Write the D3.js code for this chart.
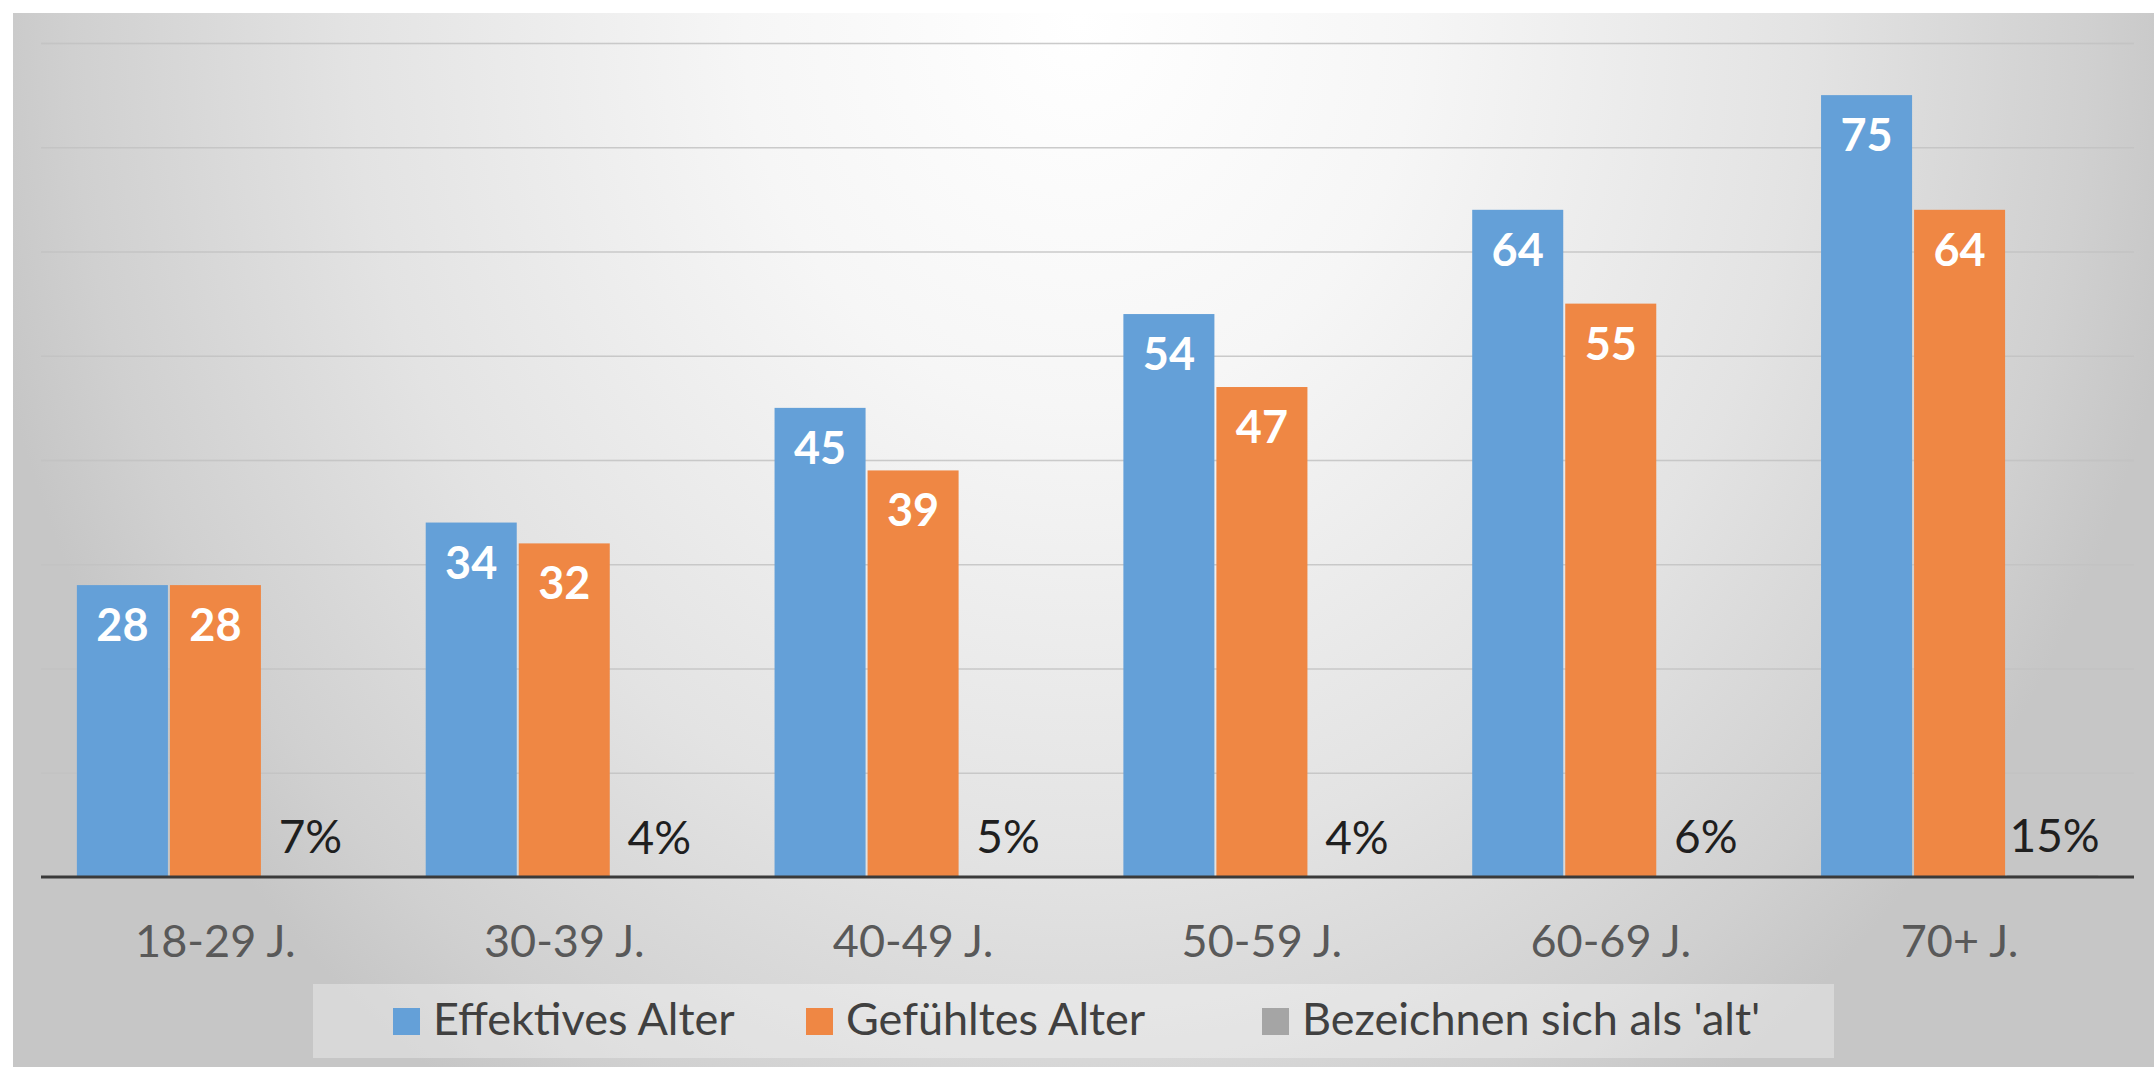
<!DOCTYPE html>
<html lang="de">
<head>
<meta charset="utf-8">
<script src="https://cdn.jsdelivr.net/npm/d3@7"></script>
<style>
  html, body { margin: 0; padding: 0; background: #ffffff; }
  svg { display: block; }
  text { font-family: Lato, "Open Sans", "Noto Sans", sans-serif; }
</style>
</head>
<body>
<svg id="chart" width="2154" height="1067"></svg>
<script>
// Altersgruppen und Werte
const categories = ["18-29 J.", "30-39 J.", "40-49 J.", "50-59 J.", "60-69 J.", "70+ J."];
const effektivesAlter = [28, 34, 45, 54, 64, 75];
const gefuehltesAlter = [28, 32, 39, 47, 55, 64];
const bezeichnenAlt = [0.07, 0.04, 0.05, 0.04, 0.06, 0.15];
const seriesNames = ["Effektives Alter", "Gefühltes Alter", "Bezeichnen sich als 'alt'"];
const seriesColors = ["#64a0d8", "#ef8744", "#a5a5a5"];
const yTicks = [10, 20, 30, 40, 50, 60, 70, 80];

const W = 2154, H = 1067;
const plot = { left: 41, right: 2134, top: 43, bottom: 877 };

const svg = d3.select("#chart");
const defs = svg.append("defs");

// Hintergrund: heller Verlauf von oben Mitte zu den Rändern
const grad = defs.append("radialGradient")
  .attr("id", "bg")
  .attr("gradientUnits", "userSpaceOnUse")
  .attr("cx", 1080).attr("cy", 20).attr("r", 1120)
  .attr("gradientTransform", "translate(1080,20) scale(1,1.15) translate(-1080,-20)");
[[0, "#ffffff"], [0.3, "#f6f6f6"], [0.65, "#e3e3e3"], [0.9, "#d0d0d0"], [1, "#c6c6c6"]]
  .forEach(([o, c]) => grad.append("stop").attr("offset", o).attr("stop-color", c));

svg.append("rect").attr("x", 13).attr("y", 13).attr("width", W - 13).attr("height", H - 13)
  .attr("fill", "url(#bg)");

// Skalen
const x0 = d3.scaleBand().domain(categories).range([plot.left, plot.right])
  .paddingInner(0.2).paddingOuter(0.1);
const x1 = d3.scaleBand().domain(seriesNames).range([0, x0.bandwidth()]).padding(0);
const y = d3.scaleLinear().domain([0, 80]).range([plot.bottom, plot.top]);

// Gitterlinien
svg.append("g").attr("class", "grid")
  .attr("transform", `translate(${plot.left},0)`)
  .call(d3.axisLeft(y).tickValues(yTicks).tickSize(-(plot.right - plot.left)).tickFormat(""))
  .call(g => g.select(".domain").remove())
  .call(g => g.selectAll("line").attr("stroke", "#c2c2c2").attr("stroke-width", 1.6)
    .attr("stroke-opacity", 0.85));

// Daten je Kategorie
const rows = categories.map((c, i) => ({
  cat: c,
  values: [effektivesAlter[i], gefuehltesAlter[i], bezeichnenAlt[i]]
}));

const groups = svg.append("g").selectAll("g.group").data(rows).join("g")
  .attr("class", "group")
  .attr("transform", d => `translate(${x0(d.cat)},0)`);

groups.selectAll("rect").data(d => d.values.map((v, k) => ({ v, k }))).join("rect")
  .attr("x", d => x1(seriesNames[d.k]) + 1)
  .attr("width", x1.bandwidth() - 2)
  .attr("y", d => y(d.v))
  .attr("height", d => y(0) - y(d.v))
  .attr("fill", d => seriesColors[d.k]);

// Wertbeschriftungen in den Balken (weiß, fett)
groups.selectAll("text.val").data(d => d.values.slice(0, 2).map((v, k) => ({ v, k }))).join("text")
  .attr("class", "val")
  .attr("x", d => x1(seriesNames[d.k]) + x1.bandwidth() / 2)
  .attr("y", d => y(d.v) + 56)
  .attr("text-anchor", "middle")
  .attr("fill", "#ffffff")
  .attr("font-size", 45)
  .attr("font-weight", 700)
  .text(d => d3.format("d")(d.v));

// Prozentangaben der dritten Reihe
groups.append("text")
  .attr("class", "pct")
  .attr("x", x1(seriesNames[2]) + x1.bandwidth() / 2 + 2)
  .attr("y", d => y(d.values[2]) - 23)
  .attr("text-anchor", "middle")
  .attr("fill", "#1f1f1f")
  .attr("font-size", 46)
  .text(d => d3.format(".0%")(d.values[2]));

// Kategorienachse
const xAxis = svg.append("g")
  .attr("transform", `translate(0,${plot.bottom})`)
  .call(d3.axisBottom(x0).tickSize(0).tickPadding(80));
xAxis.select(".domain").attr("stroke", "#3a3a3a").attr("stroke-width", 3)
  .attr("d", `M${plot.left},0H${plot.right}`);
xAxis.selectAll("text")
  .attr("fill", "#595959")
  .attr("font-size", 45)
  .attr("font-family", "Lato, 'Open Sans', sans-serif")
  .attr("dy", 0);

// Legende
const legend = svg.append("g").attr("class", "legend");
legend.append("rect")
  .attr("x", 313).attr("y", 984).attr("width", 1521).attr("height", 74)
  .attr("fill", "#ffffff").attr("fill-opacity", 0.32);

// Startpunkte der Legendeneinträge
const legendX = [393, 806, 1262];
seriesNames.forEach((name, k) => {
  const item = legend.append("g").attr("transform", `translate(${legendX[k]},0)`);
  item.append("rect").attr("x", 0).attr("y", 1008).attr("width", 27).attr("height", 27)
    .attr("fill", seriesColors[k]);
  item.append("text").attr("x", 40).attr("y", 1035)
    .attr("fill", "#404040").attr("font-size", 45).text(name);
});
</script>
</body>
</html>
